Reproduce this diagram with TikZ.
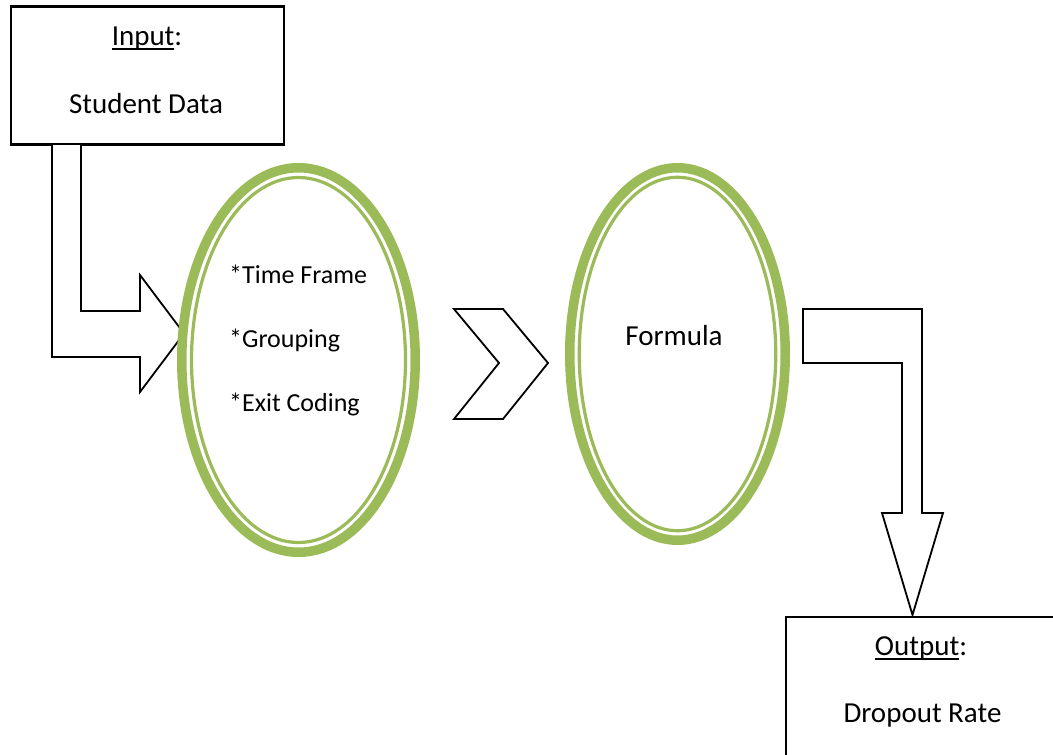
\documentclass[tikz,border=0pt]{standalone}
\usepackage{fontspec}
\setmainfont{Carlito}
\usetikzlibrary{shapes.geometric}
\definecolor{leaf}{HTML}{9BBB59}
% underline drawn as a rule just below the baseline
\newcommand\underlined[1]{\setbox0\hbox{#1}\rlap{\rule[-4.5pt]{\wd0}{1.8pt}}\box0}
\tikzset{
  framebox/.style={draw=black, line width=2.2pt, inner sep=0pt, fill=white},
  blockarrow/.style={draw=black, line width=1.8pt, line join=miter, fill=white},
  ring/.style={ellipse, draw=leaf, line width=9.5pt, inner sep=0pt},
  thinring/.style={draw=leaf, line width=3.2pt},
  bigtext/.style={anchor=base, inner sep=0pt, font=\fontsize{29pt}{34pt}\selectfont},
  listtext/.style={anchor=base west, inner sep=0pt, font=\fontsize{26pt}{31pt}\selectfont},
}
\begin{document}
\begin{tikzpicture}[x=1pt,y=-1pt]
\useasboundingbox (0,0) rectangle (1053,755);
\clip (0,0) rectangle (1053,755);
\fill[white] (0,0) rectangle (1053,755);

% input box
\node[framebox, minimum width=273pt, minimum height=138pt] (input) at (147.5,75.5) {};
\node[bigtext] (inputhead) at (147,45) {\underlined{Input}:};
\node[bigtext] (inputbody) at (146,113) {Student Data};

% bent block arrow from the input box into the first stage
\draw[blockarrow] (52,145) -- (52,357) -- (140,357) -- (140,392) -- (184,333.5)
  -- (140,275) -- (140,311) -- (81,311) -- (81,145);

% first stage: preparation steps
\node[ring, minimum width=233.5pt, minimum height=384.5pt] (steps) at (298.5,360) {};
\draw[thinring] (steps.center) ellipse [x radius=107pt, y radius=182.5pt];
\node[listtext] (step1) at (229,283) {*Time Frame};
\node[listtext] (step2) at (229,347) {*Grouping};
\node[listtext] (step3) at (229,411) {*Exit Coding};

% chevron between the stages
\draw[blockarrow] (454,309) -- (503,309) -- (548,363) -- (503,419) -- (454,419)
  -- (499,363) -- cycle;

% second stage: formula
\node[ring, minimum width=215.5pt, minimum height=372.5pt] (formula) at (677.5,354) {};
\draw[thinring] (formula.center) ellipse [x radius=98.25pt, y radius=176.75pt];
\node[bigtext] (formulatext) at (674,345) {Formula};

% output box
\node[framebox, minimum width=272pt, minimum height=180pt] (output) at (922,707) {};
\node[bigtext] (outputhead) at (921,655) {\underlined{Output}:};
\node[bigtext] (outputbody) at (922.5,722) {Dropout Rate};

% bent block arrow down to the output box
\draw[blockarrow] (803,309) -- (922,309) -- (922,513) -- (943,513) -- (912.5,615)
  -- (882,513) -- (902,513) -- (902,363) -- (803,363) -- cycle;
\end{tikzpicture}
\end{document}
